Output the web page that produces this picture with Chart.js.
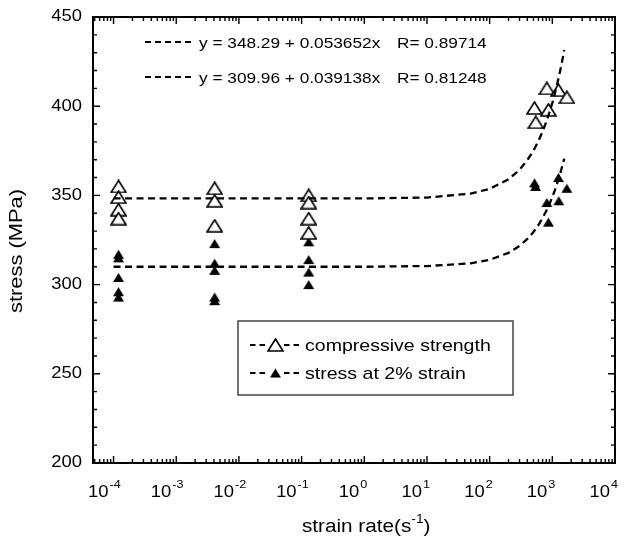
<!DOCTYPE html>
<html>
<head>
<meta charset="utf-8">
<script src="https://cdn.jsdelivr.net/npm/chart.js@4.4.1/dist/chart.umd.min.js"></script>
<style>
  html, body { margin: 0; padding: 0; background: #fff; }
  #wrap { width: 626px; height: 540px; position: relative; }
</style>
</head>
<body>
<div id="wrap"><canvas id="chart"></canvas></div>
<script>
// values: strain rate (1/s) vs stress (MPa)
const compRate = [1.2e-4, 1.2e-4, 1.2e-4, 1.2e-4, 4.1e-3, 4.1e-3, 4.1e-3,
  0.13, 0.13, 0.13, 0.13, 518, 545, 817, 867, 1253, 1706];
const compStress = [355, 349, 342, 337, 354, 347, 333,
  350, 346, 337, 329, 399, 391, 410, 398, 409, 405];

const s2Rate = [1.2e-4, 1.2e-4, 1.2e-4, 1.2e-4, 1.2e-4, 4.1e-3, 4.1e-3, 4.1e-3, 4.1e-3, 4.1e-3,
  0.13, 0.13, 0.13, 0.13, 520, 540, 817, 867, 1253, 1268, 1706];
const s2Stress = [317, 315, 304, 296, 293, 323, 312, 308, 293, 291,
  324, 314, 307, 300, 357, 355, 346, 335, 360, 347, 354];

// dashed fit curves
const fitRate = [1e-4, 1, 10, 50, 100, 200, 300, 400, 500, 600, 700, 800, 900,
  1000, 1100, 1200, 1300, 1400, 1500, 1550];
const fitComp = [348.3, 348.3, 348.8, 351, 353.7, 359, 364.4, 369.8, 375.1, 380.5, 385.8, 391.2, 396.6,
  401.9, 407.3, 412.7, 418, 423.4, 428.8, 431.5];
const fitS2 = [310, 310, 310.4, 311.9, 313.9, 317.8, 321.7, 325.6, 329.5, 333.4, 337.4, 341.3, 345.2,
  349.1, 353, 357, 360.8, 364.8, 368.7, 370.6];

const xDecades = [-4, -3, -2, -1, 0, 1, 2, 3, 4];
const yTicks = [200, 250, 300, 350, 400, 450];
const fitLabels = [['y = 348.29 + 0.053652x', 'R= 0.89714'], ['y = 309.96 + 0.039138x', 'R= 0.81248']];
const seriesLabels = ['compressive strength', 'stress at 2% strain'];

const FONT = '"Liberation Sans", Arial, sans-serif';
const SX = 1.15; // the figure's text is a little wide

function pts(xs, ys) {
  return xs.map((x, i) => ({ x: x, y: ys[i] }));
}

function makeTri(w, h, filled) {
  const c = document.createElement('canvas');
  c.width = w; c.height = h;
  const g = c.getContext('2d');
  g.beginPath();
  g.moveTo(w / 2, 1);
  g.lineTo(w - 1, h - 1);
  g.lineTo(1, h - 1);
  g.closePath();
  if (filled) {
    g.fillStyle = '#000';
    g.fill();
  } else {
    g.fillStyle = '#fff';
    g.fill();
    g.lineWidth = 1.6;
    g.strokeStyle = '#000';
    g.stroke();
  }
  return c;
}
const openTri = makeTri(17, 14, false);
const fullTri = makeTri(13, 11, true);

function txt(ctx, s, x, y, size, align, base) {
  ctx.save();
  ctx.font = size + 'px ' + FONT;
  ctx.textAlign = align || 'left';
  ctx.textBaseline = base || 'alphabetic';
  ctx.translate(x, y);
  ctx.scale(SX, 1);
  ctx.fillText(s, 0, 0);
  ctx.restore();
}
function txtW(ctx, s, size) {
  ctx.font = size + 'px ' + FONT;
  return ctx.measureText(s).width * SX;
}

const axesPlugin = {
  id: 'axesPlugin',
  afterDraw(chart) {
    const ctx = chart.ctx;
    const a = chart.chartArea;
    const xs = chart.scales.x, ys = chart.scales.y;
    ctx.save();
    ctx.fillStyle = '#000';
    ctx.strokeStyle = '#000';

    // frame
    ctx.lineWidth = 2;
    ctx.strokeRect(a.left, a.top, a.right - a.left, a.bottom - a.top);

    // y ticks, inward on both sides
    ctx.lineWidth = 1.4;
    for (let v = 200; v <= 450; v += 10) {
      const y = ys.getPixelForValue(v);
      const len = v % 50 === 0 ? 7 : 4;
      ctx.beginPath();
      ctx.moveTo(a.left, y); ctx.lineTo(a.left + len, y);
      ctx.moveTo(a.right, y); ctx.lineTo(a.right - len, y);
      ctx.stroke();
    }
    // x ticks on log scale
    for (let n = -5; n <= 4; n++) {
      for (let k = 1; k <= 9; k++) {
        const v = k * Math.pow(10, n);
        if (v < xs.min || v > xs.max) continue;
        const x = xs.getPixelForValue(v);
        const len = k === 1 ? 7 : 4;
        ctx.beginPath();
        ctx.moveTo(x, a.bottom); ctx.lineTo(x, a.bottom - len);
        ctx.moveTo(x, a.top); ctx.lineTo(x, a.top + len);
        ctx.stroke();
      }
    }

    // y tick labels
    yTicks.forEach(v => {
      txt(ctx, String(v), 82, ys.getPixelForValue(v), 16, 'right', 'middle');
    });
    // x tick labels 10^n
    xDecades.forEach(n => {
      const x = xs.getPixelForValue(Math.pow(10, n));
      txt(ctx, '10', x - 5, 497, 16, 'right');
      txt(ctx, String(n), x - 4, 488, 11, 'left');
    });

    // axis titles
    ctx.save();
    ctx.translate(17, 251);
    ctx.rotate(-Math.PI / 2);
    txt(ctx, 'stress (MPa)', 0, 0, 19, 'center', 'middle');
    ctx.restore();
    const t1 = 'strain rate(s';
    let tx = 302;
    txt(ctx, t1, tx, 532, 18);
    tx += txtW(ctx, t1, 18);
    txt(ctx, '-1', tx, 523, 12);
    tx += txtW(ctx, '-1', 12);
    txt(ctx, ')', tx, 532, 18);

    // fit equations with dash samples
    ctx.lineWidth = 2.2;
    ctx.setLineDash([6, 4]);
    [42, 77].forEach((y, i) => {
      ctx.beginPath();
      ctx.moveTo(145, y); ctx.lineTo(194, y);
      ctx.stroke();
      txt(ctx, fitLabels[i][0], 199, y + 6, 15);
      txt(ctx, fitLabels[i][1], 397, y + 6, 15);
    });

    // legend box
    ctx.setLineDash([]);
    ctx.lineWidth = 1.5;
    ctx.strokeStyle = '#444';
    ctx.strokeRect(238, 321, 275, 74);
    ctx.strokeStyle = '#000';
    ctx.lineWidth = 2;
    ctx.setLineDash([5.5, 4]);
    [[345, openTri], [373, fullTri]].forEach(([y, img], i) => {
      ctx.beginPath();
      ctx.moveTo(250, y); ctx.lineTo(267, y);
      ctx.moveTo(284, y); ctx.lineTo(301, y);
      ctx.stroke();
      ctx.drawImage(img, 275.5 - img.width / 2, y - img.height / 2);
      txt(ctx, seriesLabels[i], 305, y + 6, 17);
    });
    ctx.restore();
  }
};

new Chart(document.getElementById('chart'), {
  type: 'scatter',
  data: {
    datasets: [
      {
        label: 'fit compressive',
        data: pts(fitRate, fitComp),
        showLine: true,
        borderColor: '#000',
        borderWidth: 2.3,
        borderDash: [7, 4.5],
        pointRadius: 0,
        fill: false
      },
      {
        label: 'fit 2%',
        data: pts(fitRate, fitS2),
        showLine: true,
        borderColor: '#000',
        borderWidth: 2.3,
        borderDash: [7, 4.5],
        pointRadius: 0,
        fill: false
      },
      {
        label: seriesLabels[0],
        data: pts(compRate, compStress),
        pointStyle: openTri,
        pointRadius: 7
      },
      {
        label: seriesLabels[1],
        data: pts(s2Rate, s2Stress),
        pointStyle: fullTri,
        pointRadius: 5
      }
    ]
  },
  options: {
    responsive: true,
    maintainAspectRatio: false,
    animation: false,
    layout: { padding: { left: 93, top: 17, right: 11, bottom: 77 } },
    plugins: {
      legend: { display: false },
      tooltip: { enabled: false }
    },
    scales: {
      x: { type: 'logarithmic', display: false, min: 4.7e-5, max: 1e4 },
      y: { type: 'linear', display: false, min: 200, max: 450 }
    }
  },
  plugins: [axesPlugin]
});
</script>
</body>
</html>
